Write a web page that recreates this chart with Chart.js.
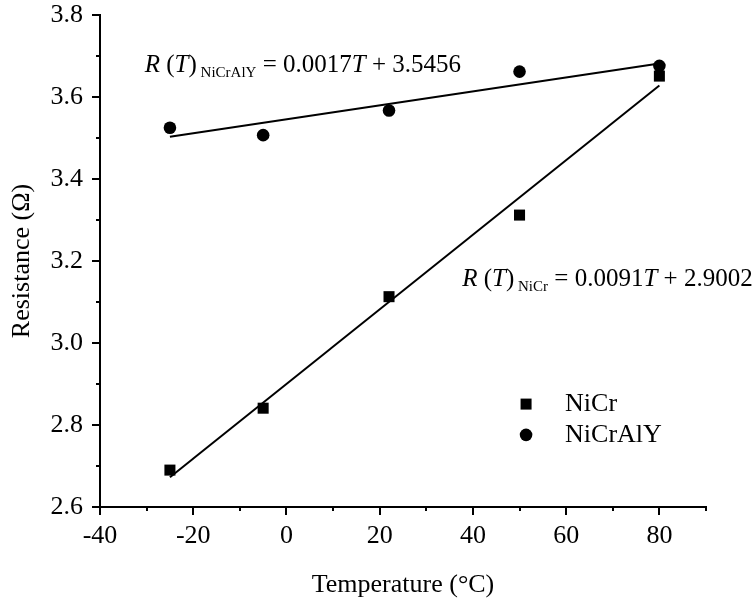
<!DOCTYPE html>
<html>
<head>
<meta charset="utf-8">
<script src="https://cdn.jsdelivr.net/npm/chart.js@4.4.1/dist/chart.umd.min.js"></script>
<style>
  body { margin: 0; background: #fff; }
</style>
</head>
<body>
<canvas id="chart" width="756" height="603"></canvas>
<script>
// measured points
const temps = [-25, -5, 22, 50, 80];
const nicr = [2.69, 2.841, 3.113, 3.312, 3.651];
const nicraly = [3.525, 3.507, 3.567, 3.662, 3.676];
// linear fits printed on the figure: [slope, intercept]
const fitNiCr = [0.0091, 2.9002];
const fitNiCrAlY = [0.0017, 3.5456];
const fitRange = [-25, 80];

const serif = "'Liberation Serif', 'Times New Roman', serif";
Chart.defaults.font.family = serif;
Chart.defaults.color = '#000';

function pts(xs, ys) {
  return xs.map((x, i) => ({ x: x, y: ys[i] }));
}
function fitLine(c) {
  return fitRange.map(x => ({ x: x, y: c[0] * x + c[1] }));
}

// draws ticks (long major, short minor), the two fit equations and the legend
const extras = {
  id: 'extras',
  afterDraw(chart) {
    const ctx = chart.ctx;
    const xs = chart.scales.x, ys = chart.scales.y;
    ctx.save();
    ctx.strokeStyle = '#000';
    ctx.lineWidth = 2;
    xs.ticks.forEach(t => {
      const px = Math.round(xs.getPixelForValue(t.value));
      const len = t.label !== '' ? 8 : 4;
      ctx.beginPath();
      ctx.moveTo(px, xs.top);
      ctx.lineTo(px, xs.top + len);
      ctx.stroke();
    });
    ys.ticks.forEach(t => {
      const py = Math.round(ys.getPixelForValue(t.value));
      const len = t.label !== '' ? 8 : 4;
      ctx.beginPath();
      ctx.moveTo(ys.right, py);
      ctx.lineTo(ys.right - len, py);
      ctx.stroke();
    });

    // equations
    function equation(x, y, name, c) {
      let px = xs.getPixelForValue(x);
      const py = ys.getPixelForValue(y);
      const parts = [
        ['italic 25px ' + serif, 'R', 0],
        ['25px ' + serif, ' (', 0],
        ['italic 25px ' + serif, 'T', 0],
        ['25px ' + serif, ')', 0],
        ['15px ' + serif, ' ' + name, 5],
        ['25px ' + serif, ' = ' + c[0].toFixed(4), 0],
        ['italic 25px ' + serif, 'T', 0],
        ['25px ' + serif, ' + ' + c[1].toFixed(4), 0]
      ];
      ctx.fillStyle = '#000';
      ctx.textBaseline = 'alphabetic';
      ctx.textAlign = 'left';
      parts.forEach(p => {
        ctx.font = p[0];
        ctx.fillText(p[1], px, py + p[2]);
        px += ctx.measureText(p[1]).width;
      });
    }
    equation(-30.4, 3.661, 'NiCrAlY', fitNiCrAlY);
    equation(37.7, 3.139, 'NiCr', fitNiCr);

    // legend
    const lx = xs.getPixelForValue(51.4);
    const ly1 = ys.getPixelForValue(2.851);
    const ly2 = ys.getPixelForValue(2.776);
    ctx.fillStyle = '#000';
    ctx.fillRect(lx - 5.5, ly1 - 5.5, 11, 11);
    ctx.beginPath();
    ctx.arc(lx, ly2, 6.3, 0, Math.PI * 2);
    ctx.fill();
    ctx.font = '26px ' + serif;
    ctx.textBaseline = 'middle';
    ctx.fillText('NiCr', lx + 39, ly1);
    ctx.fillText('NiCrAlY', lx + 39, ly2);
    ctx.restore();
  }
};

new Chart(document.getElementById('chart'), {
  type: 'scatter',
  data: {
    datasets: [{
        label: 'NiCr',
        data: pts(temps, nicr),
        pointStyle: 'rect',
        pointRadius: 7.8,
        pointHoverRadius: 7.8,
        backgroundColor: '#000',
        borderColor: '#000',
        borderWidth: 0
      }, {
        label: 'NiCrAlY',
        data: pts(temps, nicraly),
        pointStyle: 'circle',
        pointRadius: 6.3,
        pointHoverRadius: 6.3,
        backgroundColor: '#000',
        borderColor: '#000',
        borderWidth: 0
      }, {
        label: 'fit NiCr',
        type: 'line',
        data: fitLine(fitNiCr),
        borderColor: '#000',
        borderWidth: 2,
        pointRadius: 0,
        fill: false
      }, {
        label: 'fit NiCrAlY',
        type: 'line',
        data: fitLine(fitNiCrAlY),
        borderColor: '#000',
        borderWidth: 2,
        pointRadius: 0,
        fill: false
      }
    ]
  },
  options: {
    responsive: false,
    animation: false,
    devicePixelRatio: 1,
    layout: { padding: { top: 0, right: 50, left: 0, bottom: 0 } },
    plugins: {
      legend: { display: false },
      tooltip: { enabled: false }
    },
    scales: {
      x: {
        type: 'linear',
        min: -40,
        max: 90,
        afterFit: s => { s.height = 96; },
        border: { display: true, color: '#000', width: 2 },
        grid: { display: false, drawTicks: false, tickLength: 0 },
        ticks: {
          stepSize: 10,
          padding: 14,
          maxRotation: 0,
          autoSkip: false,
          font: { size: 26 },
          callback: v => (v % 20 === 0 ? String(v) : '')
        },
        title: {
          display: true,
          text: 'Temperature (°C)',
          font: { size: 26 },
          padding: { top: 0, bottom: 2 }
        }
      },
      y: {
        min: 2.6,
        max: 3.8,
        afterFit: s => { s.width = 100; s.paddingTop = 15; s.paddingBottom = 0; },
        border: { display: true, color: '#000', width: 2 },
        grid: { display: false, drawTicks: false, tickLength: 0 },
        ticks: {
          stepSize: 0.1,
          padding: 17,
          autoSkip: false,
          font: { size: 26 },
          callback: v => (Math.round(v * 10) % 2 === 0 ? v.toFixed(1) : '')
        },
        title: {
          display: true,
          text: 'Resistance (Ω)',
          font: { size: 26 },
          padding: { top: 7, bottom: 0 }
        }
      }
    }
  },
  plugins: [extras]
});
</script>
</body>
</html>
